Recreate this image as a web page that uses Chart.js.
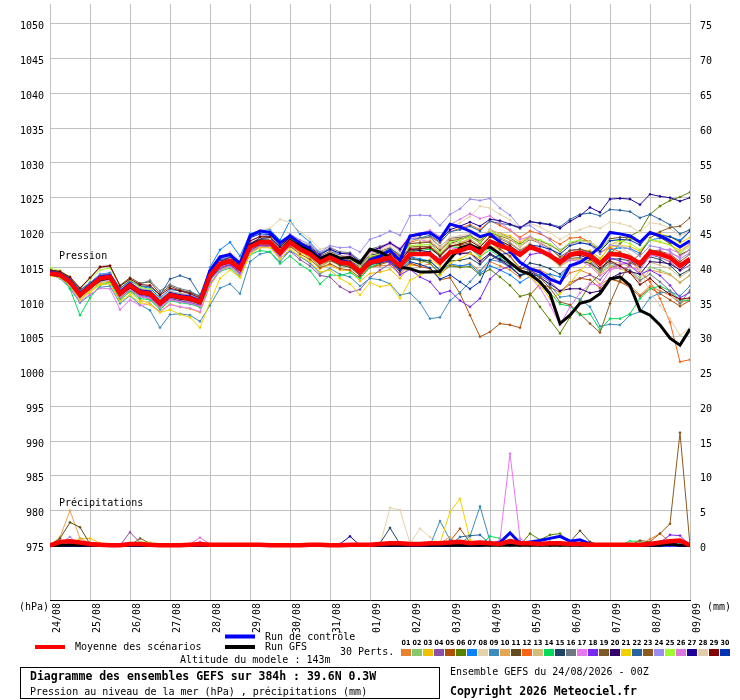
<!DOCTYPE html>
<html>
<head>
<meta charset="utf-8">
<script src="https://cdn.jsdelivr.net/npm/chart.js@4"></script>
<style>
html, body { margin: 0; padding: 0; background: #fff; }
canvas { display: block; }
</style>
</head>
<body>
<canvas id="gefs" width="740" height="700"></canvas>
<script>
// Day labels (one every 24h), data every 6h from 0 to 384h
const dayLabels = ['24/08','25/08','26/08','27/08','28/08','29/08','30/08','31/08','01/09','02/09','03/09','04/09','05/09','06/09','07/09','08/09','09/09'];
const stepHours = 6;
const pressureTicks = [975,980,985,990,995,1000,1005,1010,1015,1020,1025,1030,1035,1040,1045,1050];
const precipTicks = [0,5,10,15,20,25,30,35,40,45,50,55,60,65,70,75];
const pressureRange = [967.14, 1052.86];
const precipRange = [-7.86, 77.86];

const memberNames = ['01','02','03','04','05','06','07','08','09','10','11','12','13','14','15','16','17','18','19','20','21','22','23','24','25','26','27','28','29','30'];
const memberColors = ['#e8812f','#86c86a','#f0c000','#8c50a8','#b0500a','#5a8200','#0a82ff','#e6d2aa','#3c8cbe','#e6a550','#644b1e','#fa6414','#d2be78','#00dc5a','#1e4664','#6e7882','#e678f0','#7828f0','#7d5a28','#32006e','#f0d200','#2864a0','#8c5a1e','#9b8cf0','#a0fa32','#dc78dc','#1e0096','#e1cdaa','#820000','#0032b4'];

// Sea level pressure (hPa)
const meanPressure = [
1014.1,1013.9,1012.9,1011.0,1012.2,1013.4,1013.6,1011.2,
1012.4,1011.4,1011.2,1009.8,1011.0,1010.7,1010.5,1010.0,
1013.8,1015.5,1015.9,1014.8,1017.9,1018.6,1018.6,1017.1,
1018.6,1017.6,1016.9,1015.7,1016.4,1015.7,1015.5,1014.3,
1015.7,1016.0,1016.4,1015.2,1016.9,1016.9,1016.9,1015.7,
1017.1,1017.4,1017.9,1017.1,1018.7,1018.1,1017.6,1016.8,
1017.9,1017.4,1016.7,1015.7,1016.8,1017.1,1016.7,1015.5,
1016.9,1016.8,1016.4,1015.5,1017.2,1016.9,1016.4,1015.2,
1016.2];

const controlPressure = [
1014.3,1014.0,1013.1,1011.2,1012.4,1013.6,1013.8,1011.4,
1012.6,1011.6,1011.4,1010.0,1011.2,1010.9,1010.7,1010.2,
1014.5,1016.5,1016.8,1015.5,1019.5,1020.2,1020.0,1018.5,
1019.5,1018.5,1017.5,1016.3,1016.8,1016.0,1015.6,1014.2,
1016.0,1016.6,1017.4,1016.0,1019.5,1019.8,1020.0,1019.0,
1021.2,1020.8,1020.2,1019.4,1019.8,1018.6,1017.3,1015.7,
1014.8,1014.3,1013.3,1012.7,1015.2,1015.7,1016.7,1017.9,
1020.0,1019.8,1019.5,1018.6,1020.0,1019.5,1018.8,1017.9,
1018.8];

const gfsPressure = [
1014.0,1013.8,1012.8,1011.0,1012.1,1013.2,1013.5,1011.1,
1012.2,1011.3,1011.1,1009.8,1010.9,1010.6,1010.4,1009.9,
1013.6,1015.4,1015.8,1014.7,1018.1,1018.8,1018.7,1017.2,
1018.9,1018.0,1017.3,1016.2,1016.9,1016.3,1016.4,1015.6,
1017.6,1017.2,1016.4,1015.0,1014.8,1014.3,1014.3,1014.4,
1016.2,1017.8,1018.2,1017.6,1017.9,1016.9,1015.7,1014.5,
1014.0,1012.9,1011.2,1006.9,1008.1,1009.8,1010.2,1011.2,
1013.3,1013.6,1012.4,1008.8,1008.1,1006.7,1004.8,1003.8,
1006.1];

const memberPressure = [
[1014.6,1014.2,1013.3,1011.6,1012.6,1013.5,1013.9,1011.8,
1012.7,1011.9,1011.6,1010.5,1011.4,1010.9,1010.9,1010.6,
1013.2,1014.8,1015.4,1014.2,1017.3,1018.0,1018.4,1016.6,
1018.0,1017.2,1016.5,1015.0,1015.9,1015.4,1015.1,1013.8,
1015.0,1015.2,1015.3,1014.0,1015.4,1015.1,1015.5,1014.2,
1015.4,1015.0,1015.6,1014.4,1015.8,1015.2,1014.6,1013.5,
1014.9,1014.6,1013.9,1012.7,1014.2,1014.6,1014.0,1012.5,
1013.4,1012.9,1012.4,1011.0,1012.3,1011.6,1011.0,1009.8,
1010.5],
[1014.3,1013.6,1012.4,1010.3,1011.6,1012.8,1013.0,1010.5,
1011.8,1010.9,1010.4,1009.1,1010.3,1010.1,1009.8,1009.2,
1012.6,1014.7,1015.1,1013.9,1017.2,1018.1,1018.0,1016.5,
1018.1,1017.4,1016.4,1015.1,1016.0,1015.2,1015.1,1013.9,
1015.5,1016.1,1016.8,1015.3,1017.3,1017.6,1017.8,1016.5,
1018.0,1018.4,1019.1,1018.0,1019.4,1018.6,1018.0,1017.0,
1018.3,1017.5,1016.5,1015.2,1016.0,1016.3,1015.6,1014.2,
1015.3,1015.0,1014.6,1013.5,1015.0,1014.6,1014.0,1012.8,
1013.8],
[1013.8,1013.5,1012.2,1010.4,1011.5,1012.6,1012.9,1010.4,
1011.4,1010.3,1009.8,1008.6,1009.7,1009.3,1009.0,1008.5,
1012.3,1014.5,1015.2,1013.8,1017.0,1018.0,1018.2,1016.8,
1018.2,1017.3,1016.2,1014.8,1015.3,1014.6,1014.5,1013.0,
1014.1,1014.3,1014.7,1013.4,1015.2,1015.6,1016.1,1015.2,
1017.3,1018.2,1019.4,1018.8,1020.3,1019.9,1019.5,1018.6,
1019.4,1018.6,1017.7,1016.4,1017.0,1017.5,1017.4,1016.3,
1017.9,1018.1,1018.0,1017.3,1018.9,1018.6,1018.2,1017.4,
1018.3],
[1014.4,1014.0,1013.0,1011.2,1012.0,1013.0,1013.3,1010.6,
1011.7,1010.8,1010.5,1009.3,1010.6,1010.4,1010.1,1009.6,
1013.1,1014.8,1015.3,1014.1,1017.1,1017.9,1018.0,1016.3,
1017.3,1016.1,1015.2,1013.8,1013.6,1012.2,1011.4,1011.8,
1013.5,1014.6,1015.5,1014.8,1016.5,1016.9,1017.1,1016.2,
1017.4,1017.1,1017.0,1015.6,1016.8,1015.9,1015.0,1013.8,
1014.6,1013.8,1012.9,1011.6,1012.5,1013.4,1013.9,1013.2,
1014.9,1015.4,1015.6,1015.1,1016.8,1016.4,1015.8,1014.5,
1015.3],
[1014.0,1013.7,1012.6,1010.7,1011.9,1013.1,1013.4,1011.0,
1012.1,1011.2,1010.9,1009.6,1010.8,1010.6,1010.3,1009.7,
1013.5,1015.2,1015.6,1014.5,1017.6,1018.2,1018.1,1016.6,
1018.0,1016.9,1016.1,1014.9,1015.5,1014.8,1014.6,1013.5,
1015.0,1015.4,1015.8,1014.3,1015.6,1015.1,1014.8,1013.2,
1013.5,1011.2,1008.1,1005.0,1005.7,1006.9,1006.7,1006.3,
1011.0,1012.6,1012.1,1011.4,1012.8,1013.4,1013.2,1012.0,
1013.3,1012.9,1012.1,1010.8,1012.0,1011.2,1010.3,1009.4,
1010.2],
[1014.2,1013.8,1012.7,1010.8,1012.1,1013.3,1013.5,1011.0,
1012.2,1011.1,1010.9,1009.5,1010.7,1010.4,1010.2,1009.8,
1013.6,1015.3,1015.7,1014.6,1017.8,1018.6,1018.7,1017.3,
1018.7,1017.8,1017.0,1015.9,1016.6,1016.0,1015.8,1014.6,
1016.0,1016.3,1016.5,1015.0,1016.4,1016.0,1015.6,1014.0,
1015.2,1015.0,1015.1,1013.9,1014.7,1013.6,1012.4,1010.8,
1011.2,1009.3,1007.4,1005.5,1007.8,1010.2,1012.6,1014.0,
1016.9,1018.4,1019.5,1020.2,1022.6,1023.8,1024.6,1025.1,
1025.8],
[1014.6,1014.3,1013.4,1011.7,1012.8,1014.0,1014.2,1011.9,
1013.1,1012.2,1012.0,1010.6,1011.8,1011.6,1011.3,1010.9,
1015.0,1017.5,1018.6,1016.6,1019.8,1020.3,1020.4,1018.9,
1021.7,1019.8,1018.6,1017.0,1017.6,1016.7,1016.3,1015.0,
1016.3,1016.4,1016.6,1015.1,1016.5,1016.2,1015.9,1014.4,
1015.5,1015.2,1015.4,1014.1,1015.2,1014.6,1013.9,1012.8,
1013.7,1013.9,1014.0,1013.6,1015.2,1016.0,1016.3,1015.6,
1017.5,1017.8,1017.7,1017.0,1018.9,1019.2,1019.4,1018.9,
1020.2],
[1014.5,1014.2,1013.3,1011.5,1012.7,1013.9,1014.1,1011.8,
1013.0,1012.1,1011.8,1010.4,1011.6,1011.3,1011.1,1010.6,
1014.7,1016.6,1017.1,1016.1,1019.3,1020.3,1020.6,1021.9,
1021.4,1020.1,1019.1,1017.6,1018.0,1017.1,1016.7,1015.6,
1017.1,1017.6,1018.3,1017.4,1019.1,1019.5,1019.9,1019.0,
1020.6,1021.4,1022.3,1023.8,1023.5,1022.6,1021.8,1020.6,
1021.3,1020.8,1020.0,1019.0,1019.8,1020.4,1020.9,1020.6,
1021.5,1021.3,1020.9,1020.0,1021.4,1021.2,1020.6,1019.5,
1020.3],
[1014.0,1013.4,1012.0,1009.9,1011.0,1012.1,1012.3,1009.8,
1010.9,1009.6,1008.8,1006.3,1008.2,1008.3,1008.1,1007.2,
1009.5,1012.0,1012.6,1011.2,1015.8,1016.9,1017.2,1015.8,
1017.4,1016.5,1015.6,1014.1,1014.8,1014.0,1013.6,1012.3,
1013.4,1013.2,1012.6,1011.0,1011.3,1009.9,1007.6,1007.8,
1010.2,1011.4,1012.9,1014.5,1016.1,1015.8,1015.0,1013.9,
1014.6,1013.6,1012.4,1010.7,1010.9,1010.4,1009.3,1006.5,
1006.8,1006.7,1008.1,1008.6,1010.6,1011.3,1011.5,1010.9,
1012.3],
[1014.3,1014.0,1013.1,1011.3,1012.5,1013.7,1013.9,1011.5,
1012.6,1011.7,1011.4,1010.1,1011.3,1011.1,1010.8,1010.4,
1014.1,1015.9,1016.3,1015.1,1018.3,1019.0,1019.1,1017.6,
1019.1,1018.2,1017.4,1016.2,1016.9,1016.3,1016.1,1015.0,
1016.6,1017.1,1017.6,1016.5,1018.4,1018.6,1018.8,1017.6,
1019.0,1019.2,1019.6,1018.7,1020.1,1019.3,1018.6,1017.5,
1018.4,1017.6,1016.7,1015.4,1016.2,1016.2,1015.5,1014.0,
1015.1,1014.8,1014.2,1013.0,1014.6,1014.3,1013.9,1012.8,
1013.9],
[1014.6,1014.4,1013.5,1011.9,1013.4,1015.1,1015.2,1012.4,
1013.5,1012.7,1012.9,1011.2,1012.3,1011.7,1011.4,1010.8,
1014.4,1016.0,1016.4,1015.2,1018.3,1018.9,1018.8,1017.2,
1018.7,1017.6,1016.7,1015.4,1016.0,1015.3,1015.0,1013.8,
1015.3,1015.8,1016.4,1015.4,1017.3,1017.6,1017.9,1016.8,
1018.4,1018.9,1019.5,1018.8,1020.4,1019.8,1019.2,1018.3,
1019.3,1018.8,1018.2,1017.3,1018.4,1018.9,1018.7,1017.6,
1019.1,1019.3,1019.3,1018.5,1019.9,1019.3,1018.4,1016.8,
1017.5],
[1014.2,1014.0,1013.0,1011.1,1012.3,1013.5,1013.7,1011.3,
1012.5,1011.6,1011.3,1009.9,1011.1,1010.9,1010.6,1010.1,
1013.9,1015.6,1016.0,1014.9,1018.0,1018.7,1018.8,1017.3,
1018.8,1017.8,1017.1,1015.9,1016.6,1015.9,1015.7,1014.5,
1016.2,1016.7,1017.4,1016.6,1018.6,1019.0,1019.4,1018.5,
1020.1,1020.6,1021.1,1020.4,1021.7,1021.0,1020.3,1019.3,
1020.2,1019.8,1019.1,1018.3,1019.2,1019.3,1018.6,1017.2,
1017.8,1017.2,1016.1,1014.4,1012.9,1010.5,1007.1,1001.4,
1001.7],
[1013.9,1013.7,1012.6,1010.6,1011.8,1013.0,1013.2,1010.8,
1012.0,1011.0,1010.8,1009.4,1010.5,1010.3,1010.1,1009.6,
1013.4,1015.1,1015.5,1014.4,1017.5,1018.3,1018.3,1016.8,
1018.3,1017.4,1016.6,1015.4,1016.1,1015.5,1015.3,1014.1,
1015.8,1016.3,1016.9,1015.9,1017.7,1017.9,1018.0,1016.9,
1018.3,1018.6,1019.0,1018.1,1019.5,1018.7,1018.0,1016.9,
1017.8,1017.2,1016.3,1015.1,1016.0,1016.2,1015.7,1014.5,
1015.8,1015.6,1015.1,1014.1,1015.7,1015.3,1014.8,1013.6,
1014.5],
[1014.8,1014.0,1011.9,1008.1,1010.6,1012.4,1012.8,1010.2,
1011.6,1010.5,1010.3,1008.9,1010.2,1009.9,1009.7,1009.3,
1012.6,1014.4,1014.9,1013.6,1016.8,1017.4,1017.2,1015.5,
1016.6,1015.4,1014.5,1012.6,1013.9,1013.8,1014.2,1013.4,
1015.0,1015.6,1016.3,1015.4,1017.2,1017.4,1017.6,1016.7,
1018.0,1017.8,1017.7,1016.5,1017.5,1016.4,1015.3,1013.8,
1014.1,1012.8,1011.3,1009.7,1009.4,1008.1,1008.3,1006.0,
1007.6,1007.6,1008.3,1010.5,1011.9,1012.3,1011.6,1010.3,
1010.2],
[1014.0,1013.8,1012.8,1010.9,1012.0,1013.2,1013.4,1011.1,
1012.3,1011.3,1011.1,1009.7,1010.9,1010.6,1010.4,1009.9,
1013.7,1015.4,1015.8,1014.7,1017.8,1018.5,1018.5,1017.0,
1018.5,1017.5,1016.8,1015.6,1016.2,1015.5,1015.3,1014.1,
1015.4,1015.6,1015.9,1014.6,1016.2,1016.0,1015.9,1014.6,
1015.9,1016.0,1016.3,1015.4,1016.8,1016.1,1015.5,1014.6,
1015.6,1015.3,1014.8,1014.0,1015.3,1015.8,1015.6,1014.6,
1016.2,1016.2,1015.9,1015.0,1016.5,1016.1,1015.3,1013.9,
1014.7],
[1014.1,1013.8,1012.9,1011.1,1012.4,1013.7,1013.9,1011.6,
1012.9,1012.6,1013.1,1011.6,1012.5,1011.9,1011.6,1010.8,
1014.2,1015.9,1016.2,1015.1,1018.2,1018.9,1019.0,1017.6,
1019.3,1018.6,1018.1,1017.0,1017.8,1017.2,1017.1,1016.0,
1017.6,1018.0,1018.5,1017.4,1019.1,1019.2,1019.3,1018.0,
1019.2,1019.3,1019.6,1018.6,1019.9,1019.1,1018.4,1017.4,
1018.2,1017.5,1016.6,1015.4,1016.3,1016.4,1015.9,1014.6,
1015.6,1015.2,1014.5,1013.1,1014.0,1012.9,1011.6,1009.8,
1011.7],
[1014.3,1013.7,1012.3,1010.1,1011.1,1012.0,1011.9,1008.9,
1010.3,1009.5,1009.7,1008.6,1009.6,1009.3,1009.1,1008.6,
1012.5,1014.5,1015.1,1013.9,1017.1,1017.9,1017.9,1016.4,
1018.2,1017.7,1017.3,1016.3,1017.1,1016.6,1016.6,1015.6,
1017.2,1017.7,1018.4,1017.5,1019.2,1019.0,1018.6,1016.9,
1017.8,1017.6,1018.0,1017.2,1018.6,1017.5,1016.5,1014.6,
1013.6,1012.0,1009.6,1006.7,1009.3,1011.3,1012.6,1012.4,
1014.5,1015.4,1015.9,1015.5,1017.3,1017.5,1017.6,1017.0,
1018.4],
[1014.2,1013.8,1012.8,1010.9,1012.0,1013.1,1013.3,1010.9,
1012.0,1011.0,1010.7,1009.4,1010.5,1010.2,1009.9,1009.5,
1013.2,1015.0,1015.4,1014.3,1017.4,1018.2,1018.2,1016.8,
1018.4,1017.5,1016.9,1015.8,1016.6,1016.1,1016.0,1015.0,
1016.3,1016.0,1015.7,1013.9,1014.7,1013.6,1012.9,1011.2,
1011.6,1010.2,1009.3,1010.5,1013.3,1014.6,1015.2,1015.0,
1016.8,1017.1,1016.9,1016.1,1017.4,1017.6,1017.0,1015.6,
1016.3,1015.9,1015.3,1014.0,1014.6,1013.8,1012.4,1010.6,
1011.4],
[1014.4,1014.1,1013.2,1011.4,1012.6,1013.8,1014.0,1011.6,
1012.8,1011.8,1011.6,1010.2,1011.4,1011.1,1010.9,1010.3,
1014.0,1015.8,1016.3,1015.2,1018.4,1019.2,1019.3,1017.8,
1019.4,1018.5,1017.8,1016.6,1017.3,1016.6,1016.4,1015.3,
1016.9,1017.3,1017.8,1016.6,1018.4,1018.5,1018.6,1017.4,
1018.8,1019.0,1019.4,1018.5,1020.0,1019.5,1019.0,1018.0,
1019.0,1018.5,1017.7,1016.5,1017.4,1017.6,1017.2,1015.9,
1017.2,1017.1,1016.7,1015.8,1017.5,1017.3,1016.9,1015.8,
1016.9],
[1014.1,1013.9,1013.0,1011.2,1012.4,1013.6,1013.8,1011.4,
1012.6,1011.6,1011.4,1010.0,1011.2,1010.9,1010.7,1010.2,
1013.9,1015.6,1016.0,1014.9,1018.1,1018.8,1018.8,1017.3,
1018.9,1018.0,1017.4,1016.3,1017.1,1016.5,1016.3,1015.2,
1016.7,1017.0,1017.3,1016.0,1017.6,1017.4,1017.2,1015.8,
1017.0,1016.9,1017.1,1015.9,1017.0,1016.1,1015.1,1013.8,
1014.3,1013.5,1012.6,1011.6,1011.9,1011.9,1011.3,1011.6,
1013.4,1014.1,1014.4,1014.0,1015.8,1015.7,1015.5,1014.6,
1015.8],
[1013.9,1013.5,1012.4,1010.3,1011.4,1012.5,1012.6,1010.1,
1011.0,1009.9,1009.6,1008.5,1008.9,1008.2,1007.8,1006.3,
1010.0,1013.4,1014.6,1013.5,1016.9,1017.8,1017.8,1016.2,
1017.6,1016.6,1015.8,1014.3,1014.6,1013.4,1012.6,1011.0,
1012.8,1012.2,1012.5,1010.5,1013.1,1013.9,1014.5,1013.8,
1015.6,1016.2,1017.0,1016.3,1018.0,1017.6,1016.6,1014.6,
1013.6,1012.4,1010.5,1011.2,1012.7,1014.5,1015.8,1016.0,
1018.2,1018.8,1019.1,1018.6,1020.0,1019.8,1019.4,1018.5,
1019.3],
[1014.5,1014.3,1013.4,1011.7,1012.7,1013.8,1014.1,1012.0,
1013.0,1012.3,1012.2,1011.0,1013.3,1013.8,1013.3,1011.0,
1014.3,1016.0,1016.5,1015.4,1018.4,1019.1,1019.1,1017.6,
1019.0,1018.0,1017.2,1016.0,1016.7,1016.0,1015.8,1014.7,
1016.3,1016.9,1017.7,1016.8,1018.8,1019.2,1019.6,1018.6,
1020.1,1020.4,1020.9,1020.2,1021.6,1021.3,1021.1,1020.6,
1021.5,1021.4,1021.2,1020.8,1021.9,1022.6,1022.8,1022.4,
1023.3,1023.2,1023.0,1022.1,1022.6,1021.9,1021.1,1019.8,
1020.4],
[1014.0,1013.7,1012.8,1010.9,1012.0,1013.1,1013.3,1011.0,
1012.1,1011.2,1010.9,1009.5,1010.7,1010.4,1010.2,1009.7,
1013.4,1015.2,1015.6,1014.6,1017.7,1018.4,1018.4,1017.0,
1018.5,1017.6,1017.0,1015.8,1016.6,1016.0,1015.9,1014.8,
1016.4,1016.8,1017.3,1016.2,1017.9,1018.0,1018.0,1016.8,
1018.1,1018.2,1018.5,1017.5,1018.7,1017.6,1016.6,1014.9,
1014.6,1013.5,1012.0,1010.0,1009.6,1008.3,1006.9,1005.6,
1009.8,1013.1,1015.6,1016.9,1019.2,1020.1,1020.7,1020.9,
1022.1],
[1014.3,1014.1,1013.2,1011.3,1012.5,1013.8,1014.0,1011.7,
1012.8,1011.9,1011.7,1010.3,1011.5,1011.2,1011.0,1010.5,
1014.2,1016.1,1016.6,1015.5,1018.7,1019.5,1019.6,1018.2,
1019.8,1018.9,1018.3,1017.2,1018.1,1017.8,1017.9,1017.2,
1019.0,1019.5,1020.2,1019.6,1022.4,1022.5,1022.4,1021.0,
1022.6,1023.4,1024.8,1024.6,1024.9,1023.5,1022.5,1020.8,
1021.0,1020.0,1018.9,1017.5,1018.4,1018.6,1018.2,1016.9,
1018.2,1018.0,1017.6,1016.6,1018.1,1017.8,1017.3,1016.2,
1017.1],
[1014.9,1014.5,1013.6,1012.0,1013.3,1014.6,1014.9,1012.3,
1013.2,1012.1,1011.8,1010.3,1011.4,1011.1,1010.8,1010.3,
1014.1,1015.7,1016.1,1015.0,1018.1,1018.7,1018.7,1017.2,
1018.7,1017.8,1017.2,1016.1,1016.9,1016.3,1016.2,1015.1,
1016.6,1016.9,1017.4,1016.3,1018.1,1018.2,1018.3,1017.1,
1018.6,1018.9,1019.4,1018.6,1020.1,1019.6,1019.1,1018.2,
1019.3,1018.9,1018.3,1017.4,1018.6,1018.9,1018.6,1017.5,
1018.9,1018.8,1018.4,1017.5,1019.0,1018.7,1018.2,1017.1,
1018.0],
[1014.2,1013.9,1012.8,1010.8,1011.9,1013.0,1013.2,1010.7,
1011.8,1010.8,1010.5,1009.2,1010.3,1010.0,1009.8,1009.4,
1013.2,1015.1,1015.6,1014.4,1017.6,1018.4,1018.5,1017.1,
1018.7,1017.9,1017.3,1016.2,1017.0,1016.6,1016.5,1015.5,
1017.2,1017.8,1018.6,1017.7,1019.6,1019.9,1020.3,1019.4,
1021.1,1021.9,1022.7,1022.0,1022.4,1021.4,1020.4,1019.0,
1019.4,1018.4,1017.2,1015.6,1016.0,1015.9,1015.2,1013.8,
1014.7,1014.9,1015.0,1014.6,1016.6,1016.8,1017.0,1016.5,
1017.6],
[1014.3,1014.0,1013.1,1011.3,1012.4,1013.6,1013.8,1011.4,
1012.6,1011.7,1011.5,1010.1,1011.3,1011.0,1010.8,1010.3,
1014.0,1015.8,1016.3,1015.2,1018.3,1019.1,1019.2,1017.8,
1019.4,1018.5,1017.9,1016.8,1017.6,1017.0,1016.9,1015.8,
1017.4,1017.8,1018.5,1017.6,1019.4,1019.6,1019.9,1018.9,
1020.4,1020.9,1021.5,1020.9,1021.9,1021.7,1021.2,1020.7,
1021.6,1021.3,1021.1,1020.6,1021.6,1022.4,1023.6,1022.9,
1024.8,1024.9,1024.8,1024.0,1025.5,1025.2,1025.0,1024.5,
1025.0],
[1014.1,1013.9,1013.0,1011.1,1012.3,1013.5,1013.6,1011.2,
1012.4,1011.5,1011.3,1009.9,1011.1,1010.8,1010.6,1010.1,
1013.9,1015.7,1016.2,1015.1,1018.2,1019.0,1019.1,1017.7,
1019.1,1018.2,1017.5,1016.4,1017.1,1016.6,1016.4,1015.4,
1016.9,1017.4,1018.0,1017.0,1018.8,1019.0,1019.1,1017.9,
1019.3,1019.5,1019.9,1019.0,1020.4,1019.8,1019.1,1018.0,
1019.1,1018.6,1017.8,1016.8,1018.2,1018.7,1018.6,1017.8,
1018.9,1018.1,1016.8,1014.6,1011.4,1009.5,1007.6,1005.2,
1006.3],
[1014.6,1014.4,1013.6,1012.0,1013.5,1015.0,1015.2,1012.3,
1013.3,1012.5,1012.4,1011.0,1012.0,1011.6,1011.2,1010.6,
1014.5,1016.4,1016.8,1015.6,1018.8,1019.4,1019.4,1017.9,
1019.3,1018.3,1017.5,1016.2,1016.8,1016.0,1015.7,1014.5,
1016.0,1016.4,1016.9,1015.8,1017.6,1017.7,1017.8,1016.6,
1018.0,1018.3,1018.8,1017.9,1019.4,1018.8,1018.1,1017.1,
1018.1,1017.5,1016.7,1015.6,1016.6,1016.7,1016.2,1014.9,
1015.9,1015.2,1014.2,1012.5,1013.4,1012.1,1011.1,1010.4,
1010.6],
[1014.0,1013.8,1012.7,1010.8,1012.1,1013.3,1013.5,1011.1,
1012.3,1011.3,1011.0,1009.7,1010.9,1010.6,1010.4,1009.9,
1014.1,1016.2,1016.9,1015.8,1019.2,1019.8,1019.7,1018.1,
1019.5,1018.4,1017.6,1016.2,1016.9,1016.1,1015.8,1014.4,
1015.8,1015.9,1016.0,1014.5,1015.8,1015.4,1014.9,1013.3,
1013.9,1012.9,1011.9,1012.9,1016.0,1016.8,1017.1,1016.8,
1018.2,1018.0,1017.6,1016.9,1018.1,1018.5,1018.3,1017.3,
1018.8,1019.0,1018.9,1018.2,1019.8,1019.6,1019.4,1018.7,
1020.2]
];

// Precipitation (mm per 6h)
const meanPrecip = [
0,0.5,0.6,0.4,0.2,0.1,0,0,
0.2,0.2,0.1,0,0,0,0.1,0.2,
0.1,0.1,0.1,0.1,0.1,0.1,0,0,
0,0,0.1,0.1,0,0,0.1,0.1,
0.1,0.2,0.3,0.3,0.2,0.2,0.3,0.3,
0.4,0.5,0.3,0.4,0.3,0.2,0.6,0.3,
0.3,0.2,0.3,0.3,0.2,0.2,0.1,0.1,
0.1,0.1,0.1,0.1,0.2,0.4,0.6,0.7,
0];
const controlPrecip = [
0,0,0,0,0,0,0,0,
0,0,0,0,0,0,0,0,
0,0,0,0,0,0,0,0,
0,0,0,0,0,0,0,0,
0,0,0,0,0,0,0,0,
0,0,0,0,0.2,0.4,1.8,0.3,
0.5,0.7,1.0,1.3,0.6,0.8,0.2,0,
0,0,0,0,0,0,0,0,
0];
const gfsPrecip = [
0,0,0,0,0,0,0,0,
0,0,0,0,0,0,0,0,
0,0,0,0,0,0,0,0,
0,0,0,0,0,0,0,0,
0,0,0,0,0,0,0,0,
0,0,0,0,0,0,0,0,
0,0,0,0,0,0,0,0,
0,0,0,0,0,0,0.2,0,
0];
const memberPrecip = [
[0,0,0,0,0,0,0,0, 0,0,0,0,0,0,0,0, 0,0,0,0,0,0,0,0, 0,0,0,0,0,0,0,0, 0,0,0,0,0,0,0,0, 0,0,0,0,0,0,0,0, 0,0,0,0,0,0,0,0, 0,0,0,0,0.9,1.7,0.5,0, 0],
[0,0,0,0,0,0,0,0, 0,0,0,0,0,0,0,0, 0,0,0,0,0,0,0,0, 0,0,0,0,0,0,0,0, 0,0,0,0,0,0,0.3,0, 0.2,0,0,0,0,0,0,0, 0,0,0,0,0,0,0,0, 0,0,0,0,0,0,0,0, 0],
[0,0,0,1.0,1.0,0.3,0,0, 0,0,0,0,0,0,0,0, 0,0,0,0,0,0,0,0, 0,0,0,0,0,0,0,0, 0,0,0,0,0,0,0,0, 0,0,0,0,0,0,0,0, 0,0,0,0,0,0,0,0, 0,0,0,0,0,0,0,0, 0],
[0,0,0,0,0,0,0,0, 1.9,0.4,0,0,0,0,0,0, 0,0,0,0,0,0,0,0, 0,0,0,0,0,0,0,0, 0,0,0,0,0,0,0,0, 0,0,0,0,0,0,0,0, 0,0,0,0,0,0,0,0, 0,0,0,0,0,0,0,0, 0],
[0,0,0,0,0,0,0,0, 0,0,0,0,0,0,0,0, 0,0,0,0,0,0,0,0, 0,0,0,0,0,0,0,0, 0,0,0,0,0,0,0,0, 0.6,2.4,0.4,0,0,0,0,0, 0,0,0,0,0,0,0,0, 0,0,0,0,0,0,0,0, 0],
[0,0,0,0,0,0,0,0, 0,0,0,0,0,0,0,0, 0,0,0,0,0,0,0,0, 0,0,0,0,0,0,0,0, 0,0,0,0,0,0,0,0, 0,0,0,0,0,0,0,0, 1.7,0.8,1.5,1.7,0.4,0,0,0, 0,0,0,0,0,0,0,0, 0],
[0,0,0.3,0,0,0,0,0, 0,0,0,0,0,0,0,0, 0,0,0,0,0,0,0,0, 0,0,0,0,0,0,0,0, 0,0,0,0,0,0,0,0, 0,0,0,0,0,0,0,0, 0,0,0,0,0,0,0,0, 0,0,0,0,0,0,0,0, 0],
[0,0,0,0,0,0,0,0, 0,0,0,0,0,0,0,0, 0,0,0,0,0,0,0,0, 0,0,0,0,0,0,0,0, 0,0,5.4,5.1,0.3,2.4,1.2,0.2, 0,0,0,0,0,0,0,0, 0,0,0,0,0,0,0,0, 0,0,0,0,0,0,0,0, 0],
[0,0,0,0,0,0,0,0, 0,0,0,0,0,0,0,0, 0,0,0,0,0,0,0,0, 0,0,0,0,0,0,0,0, 0,0,0,0,0,0,0,3.5, 0.8,0.3,1.3,5.6,0.6,0,0,0, 0,0,0,0,0,0,0,0, 0,0,0,0,0,0,0,0, 0],
[0,1.2,5.0,1.0,0.3,0,0,0, 0,0,0,0,0,0,0,0, 0,0,0,0,0,0,0,0, 0,0,0,0,0,0,0,0, 0,0,0,0,0,0,0,0.3, 1.2,0,0,0,0,0,0,0, 0,0,0,0,0,0,0,0, 0,0,0,0,0,0,0,0, 0],
[0,1.0,3.3,2.6,0.2,0,0,0, 0,0,0,0,0,0,0,0, 0,0,0,0,0,0,0,0, 0,0,0,0,0,0,0,0, 0,0,0,0,0,0,0,0, 0,0,0,0,0,0,0,0, 0,0,0,0,0.5,2.1,0.5,0, 0,0,0,0,0,0,0,0, 0],
[0,0,0,0,0,0,0,0, 0,0,0,0,0,0,0,0, 0,0,0,0,0,0,0,0, 0,0,0,0,0,0,0,0, 0,0,0,0,0,0,0,0, 0,0,0,0,0,0,0,0, 0,0,0,0,0,0,0,0, 0,0,0,0,0,0,0.4,0.8, 0],
[0,0,0,0,0.5,0,0,0, 0,0,0,0,0,0,0,0, 0,0,0,0,0,0,0,0, 0,0,0,0,0,0,0,0, 0,0,0,0,0,0,0,0, 0,0,0,0,0,0,0,0, 0,0,0,0,0,0,0,0, 0,0,0,0,0,0,0,0, 0],
[0,0,0,0,0,0,0,0, 0,0,0,0,0,0,0,0, 0,0,0,0,0,0,0,0, 0,0,0,0,0,0,0,0, 0,0,0,0,0,0,0,0, 0,0.2,0,0,1.3,1.0,0,0, 0,0,0,0,0,0,0,0, 0,0,0.6,0.6,0,0,0,0, 0],
[0,0,0,0,0,0,0,0, 0,0,0,0,0,0,0,0, 0,0,0,0,0,0,0,0, 0,0,0,0,0,0,0,0, 0,0.3,2.5,0.2,0,0,0,0, 0,0,0,0,0,0,0,0, 0,0,0,0,0,0,0,0, 0,0,0,0,0,0,0,0, 0],
[0,0,0,0,0,0,0,0, 0,0,0,0,0,0,0,0, 0,0,0,0,0,0,0,0, 0,0,0,0,0,0,0,0, 0,0,0,0,0,0,0.2,0, 0,0,0,0,0,0,0,0, 0,0,0,0,0,0,0,0, 0,0,0,0,0,0,0,0, 0],
[0,0,0,0,0,0,0,0, 0,0,0,0,0,0,0,0.5, 0,0,0,0,0,0,0,0, 0,0,0,0,0,0,0,0, 0,0,0,0,0,0,0,0, 0,0,0,0,0,0.8,13.2,1.0, 0,0,0,0,0,0,0,0, 0,0,0,0,0,0,0,0, 0],
[0,0,0,0,0,0,0,0, 0,0,0,0,0,0,0,0, 0,0,0,0,0,0,0,0, 0,0,0,0,0,0,0,0, 0,0,0,0,0,0,0,0, 0,0,0,0,0,0,0.4,0.6, 0,0,0,0,0,0,0,0, 0,0,0,0,0,0.4,1.5,1.4, 0],
[0,0,0,0,0,0,0,0, 0,1.0,0.3,0,0,0,0,0, 0,0,0,0,0,0,0,0, 0,0,0,0,0,0,0,0, 0,0,0,0,0,0,0,0, 0,0,0,0,0,0,0,0, 0,0,0,0,0,0,0,0, 0,0,0,0,0,0,0,0, 0],
[0,0,0,0,0,0,0,0, 0,0,0,0,0,0,0,0, 0,0,0,0,0,0,0,0, 0,0,0,0,0,0,0,0, 0,0,0,0,0,0,0,0, 0,0,0,0,0,0,0,0, 0,0,0,0,0,0,0,0, 0,0,0,0,0,0,0,0, 0],
[0,0,0,0,0,0,0,0, 0,0,0,0,0,0,0,0, 0,0,0,0,0,0,0,0, 0,0,0,0,0,0,0,0, 0,0,0,0,0,0,0,0.3, 4.8,6.7,0.8,0,0,0,0,0, 0,0,0,0,0,0,0,0, 0,0,0,0,0,0,0,0, 0],
[0,0,0,0,0,0,0,0, 0,0,0,0,0,0,0,0, 0,0,0,0,0,0,0,0, 0,0,0,0,0,0,0,0, 0,0,0,0,0,0,0,0, 0,1.2,1.4,1.5,0.2,0,0,0, 0,0,0,0,0,0,0,0, 0,0,0,0,0,0,0,0, 0],
[0,0,0,0,0,0,0,0, 0,0,0,0,0,0,0,0, 0,0,0,0,0,0,0,0, 0,0,0,0,0,0,0,0, 0,0,0,0,0,0,0,0, 0,0,0,0,0,0,0,0, 0,0,0,0,0,0,0,0, 0,0,0,0.7,0.5,1.7,3.1,16.2, 0],
[0,0.3,1.2,0,0,0,0,0, 0,0,0,0,0,0,0,0, 0,0,0,0,0,0,0,0, 0,0,0,0,0,0,0,0, 0,0,0,0,0,0,0,0, 0,0,0,0,0,0,0,0, 0,0,0,0,0,0,0,0, 0,0,0,0,0,0,0,0, 0],
[0,0,0,0,0,0,0,0, 0,0.5,0.4,0,0,0,0,0, 0,0,0,0,0,0,0,0, 0,0,0,0,0,0,0,0, 0,0,0,0,0,0,0,0, 0,0,0,0,0,0,0,0, 0,0,0,0,0,0,0,0, 0,0,0.3,0,0,0,0,0, 0],
[0,0,0,0,0,0,0,0, 0,0,0,0,0,0,0.2,1.1, 0.2,0,0,0,0,0,0,0, 0,0,0,0,0,0,0,0, 0,0,0,0,0,0,0,0, 0,0,0,0,0,0,0,0, 0,0,0,0,0,0,0,0, 0,0,0,0,0,0,0,0, 0],
[0,0,0,0,0,0,0,0, 0,0,0,0,0,0,0,0, 0,0,0,0,0,0,0,0, 0,0,0,0,0,0.2,1.3,0, 0,0,0,0,0,0,0,0, 0,0,0,0,0,0,0,0, 0,0,0,0,0,0,0,0, 0,0,0,0,0,0,0,0, 0],
[0,0,0,0,0,0,0,0, 0,0,0,0,0,0,0,0, 0,0,0,0,0,0,0,0, 0,0,0,0,0,0,0,0, 0,0,0,0,0,0,0,0, 0,0,0,0,0,0,0,0, 0,0,0,0,0,0,0,0, 0,0,0.4,0,0,0,0,0, 0],
[0,0,0,0,0,0,0,0, 0,0,0,0,0,0,0,0, 0,0,0,0,0,0,0,0, 0,0,0,0,0,0,0,0, 0,0,0,0,0,0,0,0, 0,0,0,0,0,0,0,0, 0,0,0,0,0,0,0,0, 0,0,0,0,0,0,0.4,0.6, 0],
[0,0.3,0,0,0,0,0,0, 0,0,0,0,0,0,0,0, 0,0,0,0,0,0,0,0, 0,0,0,0,0,0,0,0, 0,0,0,0,0,0,0,0, 0,0,0,0,0,0,0,0, 0,0,0.5,0,0,0,0,0, 0,0,0,0,0,0,0,0, 0]
];

const FONT_FAMILY = '"DejaVu Sans Mono", monospace';

function toPoints(values) {
    return values.map((v, i) => ({ x: i * stepHours, y: v }));
}

function lineSet(values, color, width, axis, radius) {
    return {
        data: toPoints(values),
        yAxisID: axis,
        borderColor: color,
        backgroundColor: color,
        borderWidth: width,
        pointRadius: radius,
        pointStyle: 'rectRot',
        pointBorderWidth: 0,
        tension: 0,
        fill: false
    };
}

// First dataset is drawn on top in Chart.js
const datasets = [
    lineSet(meanPressure, '#ff0000', 4.5, 'y', 0),
    lineSet(meanPrecip, '#ff0000', 4.5, 'y2', 0),
    lineSet(gfsPressure, '#000000', 3, 'y', 0),
    lineSet(gfsPrecip, '#000000', 3, 'y2', 0),
    lineSet(controlPressure, '#0000ff', 3, 'y', 0),
    lineSet(controlPrecip, '#0000ff', 3, 'y2', 0)
];
for (let k = memberPressure.length - 1; k >= 0; k--) {
    datasets.push(lineSet(memberPressure[k], memberColors[k], 1, 'y', 1.6));
    datasets.push(lineSet(memberPrecip[k], memberColors[k], 1, 'y2', 1.6));
}

function segment(ctx, x1, x2, y, color, width) {
    ctx.strokeStyle = color;
    ctx.lineWidth = width;
    ctx.beginPath();
    ctx.moveTo(x1, y);
    ctx.lineTo(x2, y);
    ctx.stroke();
}

const decorations = {
    id: 'decorations',
    beforeDraw(chart) {
        const ctx = chart.ctx;
        ctx.save();
        ctx.fillStyle = '#fff';
        ctx.fillRect(0, 0, chart.width, chart.height);
        ctx.restore();
    },
    afterDraw(chart) {
        const ctx = chart.ctx;
        ctx.save();
        ctx.fillStyle = '#000';
        ctx.textBaseline = 'middle';
        ctx.textAlign = 'left';
        ctx.font = '10px ' + FONT_FAMILY;
        ctx.fillText('Pression', 59, 256);
        ctx.fillText('Précipitations', 59, 503);
        ctx.fillText('(hPa)', 19, 607);
        ctx.fillText('(mm)', 707, 607);

        // legend
        segment(ctx, 35, 65, 647, '#ff0000', 4);
        segment(ctx, 225, 255, 636.5, '#0000ff', 4);
        segment(ctx, 225, 255, 647, '#000000', 4);
        ctx.fillText('Moyenne des scénarios', 75, 647);
        ctx.fillText('Run de contrôle', 265, 637);
        ctx.fillText('Run GFS', 265, 647);
        ctx.fillText('Altitude du modele : 143m', 180, 660);
        ctx.fillText('30 Perts.', 340, 652);
        ctx.fillText('Ensemble GEFS du 24/08/2026 - 00Z', 450, 672);

        // member swatches
        ctx.textAlign = 'center';
        ctx.font = 'bold 7px "DejaVu Sans Condensed", sans-serif';
        memberNames.forEach((name, i) => {
            const x = 401 + i * 11;
            ctx.fillStyle = '#000';
            ctx.fillText(name, x + 5, 643);
            ctx.fillStyle = memberColors[i];
            ctx.fillRect(x, 649, 10, 7);
        });

        // title box
        ctx.textAlign = 'left';
        ctx.strokeStyle = '#000';
        ctx.lineWidth = 1;
        ctx.strokeRect(20.5, 667.5, 419, 31);
        ctx.fillStyle = '#000';
        ctx.font = 'bold 11.5px ' + FONT_FAMILY;
        ctx.fillText('Diagramme des ensembles GEFS sur 384h : 39.6N 0.3W', 30, 677);
        ctx.fillText('Copyright 2026 Meteociel.fr', 450, 692);
        ctx.font = '10px ' + FONT_FAMILY;
        ctx.fillText('Pression au niveau de la mer (hPa) , précipitations (mm)', 30, 692);
        ctx.restore();
    }
};

const tickFont = { family: FONT_FAMILY, size: 10 };

new Chart(document.getElementById('gefs'), {
    type: 'line',
    data: { datasets: datasets },
    plugins: [decorations],
    options: {
        responsive: false,
        devicePixelRatio: 1,
        animation: false,
        events: [],
        layout: { padding: 0 },
        plugins: { legend: { display: false }, tooltip: { enabled: false } },
        scales: {
            x: {
                type: 'linear',
                min: 0,
                max: (dayLabels.length - 1) * 24,
                afterBuildTicks: s => { s.ticks = dayLabels.map((d, i) => ({ value: i * 24 })); },
                afterFit: s => { s.height = 100; s.paddingLeft = 0; s.paddingRight = 0; },
                ticks: {
                    callback: v => dayLabels[Math.round(v / 24)],
                    minRotation: 90, maxRotation: 90, autoSkip: false,
                    font: tickFont, color: '#000', padding: 3, labelOffset: 7
                },
                grid: { color: '#c0c0c0', lineWidth: 1, drawTicks: false },
                border: { display: true, color: '#000', width: 1 }
            },
            y: {
                position: 'left',
                min: pressureRange[0],
                max: pressureRange[1],
                afterBuildTicks: s => { s.ticks = pressureTicks.map(v => ({ value: v })); },
                afterFit: s => { s.width = 50; s.paddingTop = 0; s.paddingBottom = 0; },
                ticks: { callback: v => String(v), font: tickFont, color: '#000', padding: 6, labelOffset: 3 },
                grid: { color: '#c0c0c0', lineWidth: 1, drawTicks: false },
                border: { display: false }
            },
            y2: {
                position: 'right',
                min: precipRange[0],
                max: precipRange[1],
                afterBuildTicks: s => { s.ticks = precipTicks.map(v => ({ value: v })); },
                afterFit: s => { s.width = 50; s.paddingTop = 0; s.paddingBottom = 0; },
                ticks: { callback: v => String(v), font: tickFont, color: '#000', padding: 10, labelOffset: 3 },
                grid: { display: false, drawTicks: false },
                border: { display: false }
            }
        }
    }
});
</script>
</body>
</html>
